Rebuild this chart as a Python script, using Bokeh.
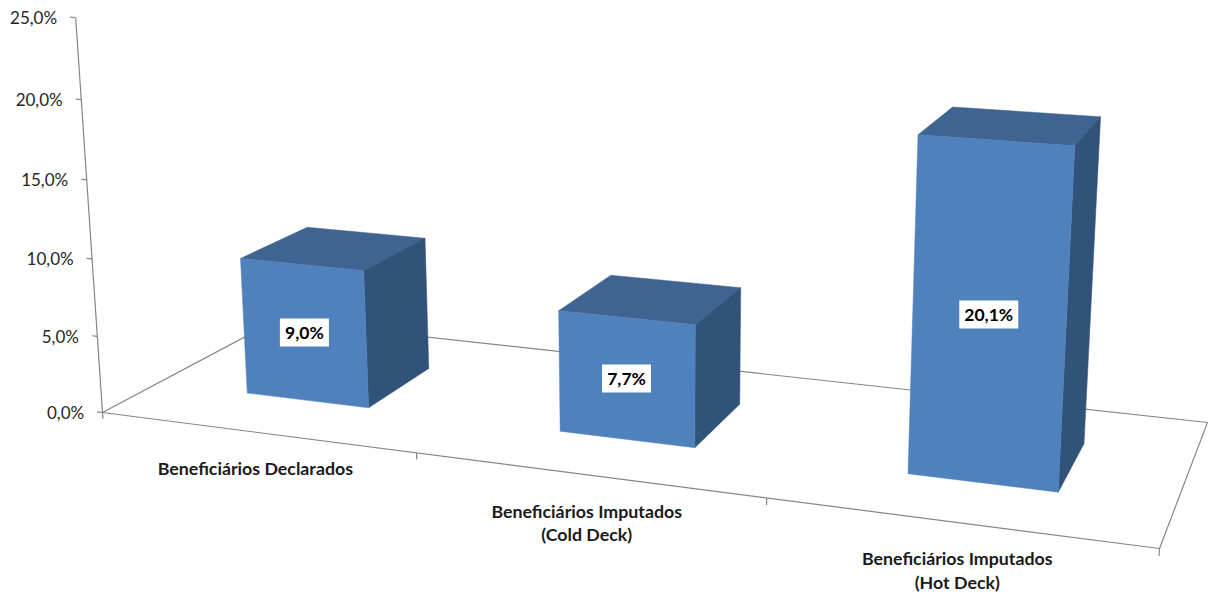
import numpy as np
from bokeh.plotting import figure
from bokeh.models import Range1d
from bokeh.core.properties import value
from bokeh.embed import file_html
from bokeh.resources import INLINE

# ---- data
categories = [["Beneficiários Declarados"],
              ["Beneficiários Imputados", "(Cold Deck)"],
              ["Beneficiários Imputados", "(Hot Deck)"]]
values = [9.0, 7.7, 20.1]
bar_labels = ["9,0%", "7,7%", "20,1%"]
y_ticks = [0, 5, 10, 15, 20, 25]
y_tick_labels = ["0,0%", "5,0%", "10,0%", "15,0%", "20,0%", "25,0%"]

# ---- chart geometry as Excel defines it
gap_width = 1.5
gap_depth = 1.5
Y_MAX = 25.0

# ---- camera: floor quad in page pixels, vertical vanishing point
floor_00 = (102, 412)
floor_10 = (1159, 548)
floor_11 = (1207, 422)
floor_01 = (275.2, 320)
vanish = (665.0, 8700.0)
axis_top_y = 17.0


def floor_matrix():
    (x0, y0), (x1, y1), (x2, y2), (x3, y3) = floor_00, floor_10, floor_11, floor_01
    sx, sy = x0 - x1 + x2 - x3, y0 - y1 + y2 - y3
    dx1, dx2, dy1, dy2 = x1 - x2, x3 - x2, y1 - y2, y3 - y2
    det = dx1 * dy2 - dx2 * dy1
    g = (sx * dy2 - dx2 * sy) / det
    h = (dx1 * sy - sx * dy1) / det
    return np.array([[x1 - x0 + g * x1, x3 - x0 + h * x3, x0],
                     [y1 - y0 + g * y1, y3 - y0 + h * y3, y0],
                     [g, h, 1.0]])


H = floor_matrix()
c3 = (floor_00[1] - axis_top_y) / (Y_MAX * (axis_top_y - vanish[1]))
VV = np.array([vanish[0], vanish[1], 1.0])


def project(u, v, h):
    """u: category position 0..n, v: depth 0..1, h: value in %."""
    q = H @ np.array([u / len(values), v, 1.0]) + h * c3 * VV
    return q[0] / q[2], q[1] / q[2]


def path(points):
    xy = [project(*pt) for pt in points]
    return [a for a, _ in xy], [b for _, b in xy]


p = figure(width=1208, height=594, output_backend="svg", toolbar_location=None,
           x_range=Range1d(0, 1208), y_range=Range1d(594, 0),
           min_border=0, outline_line_color=None, background_fill_color="white")
p.axis.visible = False
p.grid.visible = False

AXIS = "#868686"
FRONT, TOP, SIDE = "#4F81BD", "#3F6491", "#325379"
n = len(values)

# floor outline and vertical axis
for pts in ([(0, 0, 0), (n, 0, 0)], [(n, 0, 0), (n, 1, 0)], [(n, 1, 0), (0, 1, 0)],
            [(0, 1, 0), (0, 0, 0)], [(0, 0, 0), (0, 0, Y_MAX)]):
    xs, ys = path(pts)
    p.line(xs, ys, line_color=AXIS, line_width=1.2)

# value ticks and labels
for t, lab in zip(y_ticks, y_tick_labels):
    xs, ys = path([(0, 0, t), (-0.018, 0, t)])
    p.line(xs, ys, line_color=AXIS, line_width=1.2)
    p.text([xs[1]], [ys[1]], text=[lab], text_align="right", text_baseline="middle",
           x_offset=-13, y_offset=0.5, text_color="#262626",
           text_font=value("Lato"), text_font_size="17px")

# category ticks
for i in range(n + 1):
    xs, ys = path([(i, 0, 0), (i, 0, -0.42)])
    p.line(xs, ys, line_color=AXIS, line_width=1.2)

# bars
half_w = 0.5 / (1 + gap_width)
half_d = 0.5 / (1 + gap_depth)
v0, v1 = 0.5 - half_d, 0.5 + half_d
for i, val in enumerate(values):
    u0, u1 = i + 0.5 - half_w, i + 0.5 + half_w
    xs, ys = path([(u0, v0, val), (u1, v0, val), (u1, v1, val), (u0, v1, val)])
    p.patch(xs, ys, fill_color=TOP, line_color=TOP, line_width=0.5)
    xs, ys = path([(u1, v0, 0), (u1, v1, 0), (u1, v1, val), (u1, v0, val)])
    p.patch(xs, ys, fill_color=SIDE, line_color=SIDE, line_width=0.5)
    xs, ys = path([(u0, v0, 0), (u1, v0, 0), (u1, v0, val), (u0, v0, val)])
    p.patch(xs, ys, fill_color=FRONT, line_color=FRONT, line_width=0.5)

# data labels
for i, (val, lab) in enumerate(zip(values, bar_labels)):
    x, y = project(i + 0.5, v0, val / 2)
    p.rect([x], [y - 0.5], width=10 * len(lab) + 9, height=28,
           width_units="screen", height_units="screen",
           fill_color="white", line_color=None)
    p.text([x], [y - 0.5], text=[lab], text_align="center", text_baseline="middle",
           text_color="black", text_font=value("Lato"), text_font_style="bold",
           text_font_size="17.5px")

# category labels
for i, lines in enumerate(categories):
    x, y = project(i + 0.5, 0, 0)
    for j, line in enumerate(lines):
        p.text([x], [y], text=[line], text_align="center", text_baseline="middle",
               y_offset=36 + 23.5 * j, text_color="#1a1a1a", text_font=value("Lato"),
               text_font_style="bold", text_font_size="17.8px")

open("out.html", "w").write(file_html(p, INLINE))
